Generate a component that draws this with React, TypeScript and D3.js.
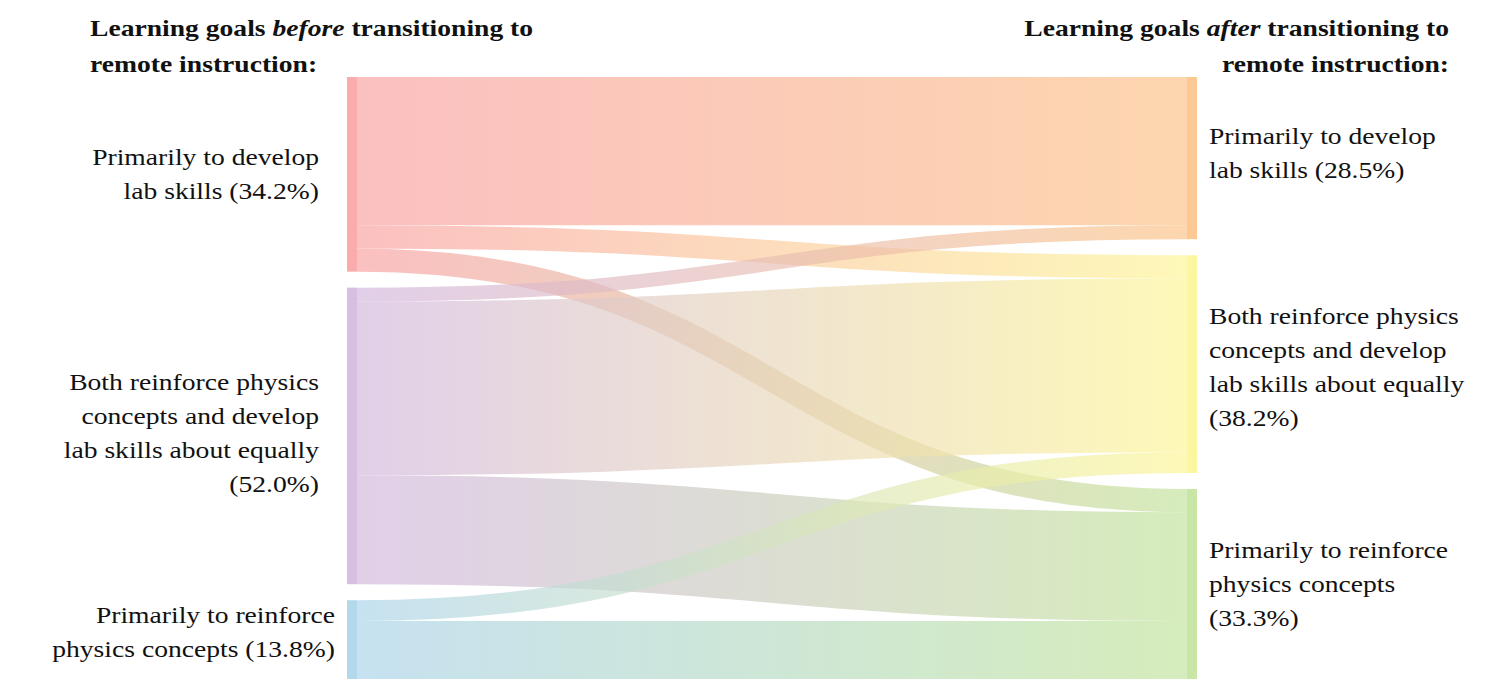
import { useEffect } from "react"
import * as d3 from "d3"

// Nodes: column 0 = before, column 1 = after
const beforeNodes = ["devBefore", "bothBefore", "concBefore"]
const afterNodes = ["devAfter", "bothAfter", "concAfter"]

const nodeLabels: Record<string, string[]> = {
  devBefore: ["Primarily to develop", "lab skills (34.2%)"],
  bothBefore: ["Both reinforce physics", "concepts and develop", "lab skills about equally", "(52.0%)"],
  concBefore: ["Primarily to reinforce", "physics concepts (13.8%)"],
  devAfter: ["Primarily to develop", "lab skills (28.5%)"],
  bothAfter: ["Both reinforce physics", "concepts and develop", "lab skills about equally", "(38.2%)"],
  concAfter: ["Primarily to reinforce", "physics concepts", "(33.3%)"],
}

const nodeColors: Record<string, string> = {
  devBefore: "#f9a2a3",
  bothBefore: "#d3b8de",
  concBefore: "#abd3e9",
  devAfter: "#fcc388",
  bothAfter: "#fdf597",
  concAfter: "#c2e39c",
}

const flowSources = ["devBefore", "devBefore", "devBefore", "bothBefore", "bothBefore", "bothBefore", "concBefore", "concBefore"]
const flowTargets = ["devAfter", "bothAfter", "concAfter", "devAfter", "bothAfter", "concAfter", "bothAfter", "concAfter"]
const flowValues = [64, 10, 10, 6, 75, 47, 9, 25]

const titleBefore = ["Learning goals ", "before", " transitioning to"]
const titleAfter = ["Learning goals ", "after", " transitioning to"]
const titleLine2 = "remote instruction:"

const FONT = "'Liberation Serif', 'Times New Roman', serif"
const SX = 1.15

export default function App() {
  useEffect(() => {
    document.body.style.margin = "0"
  }, [])

  const width = 1500
  const height = 687
  const top = 77
  const bottom = 679
  const gap = 16
  const nodeW = 10

  const total = d3.sum(flowValues)
  const k = d3.scaleLinear().domain([0, total]).range([0, bottom - top - gap * 2])
  const colX = d3.scaleLinear().domain([0, 1]).range([347, 1187])

  type N = { id: string; col: number; x0: number; x1: number; y0: number; y1: number; value: number }
  const nodes: Record<string, N> = {}
  ;[beforeNodes, afterNodes].forEach((ids, col) => {
    let y = top
    ids.forEach((id) => {
      const value = d3.sum(flowValues.filter((_, i) => (col === 0 ? flowSources[i] : flowTargets[i]) === id))
      const h = k(value)
      nodes[id] = { id, col, x0: colX(col), x1: colX(col) + nodeW, y0: y, y1: y + h, value }
      y += h + gap
    })
  })

  // stack links at source (ordered by target) and at target (ordered by source)
  const links = flowValues.map((v, i) => ({ i, s: flowSources[i], t: flowTargets[i], v, w: k(v), sy: 0, ty: 0 }))
  const srcOff: Record<string, number> = {}
  const tgtOff: Record<string, number> = {}
  links
    .slice()
    .sort((a, b) => afterNodes.indexOf(a.t) - afterNodes.indexOf(b.t))
    .forEach((l) => {
      const o = srcOff[l.s] ?? nodes[l.s].y0
      l.sy = o + l.w / 2
      srcOff[l.s] = o + l.w
    })
  links
    .slice()
    .sort((a, b) => beforeNodes.indexOf(a.s) - beforeNodes.indexOf(b.s))
    .forEach((l) => {
      const o = tgtOff[l.t] ?? nodes[l.t].y0
      l.ty = o + l.w / 2
      tgtOff[l.t] = o + l.w
    })

  const linkGen = d3
    .linkHorizontal<{ source: [number, number]; target: [number, number] }, [number, number]>()
    .x((d) => d[0])
    .y((d) => d[1])

  const lineH = 34
  // small hand offsets, the original text boxes were placed by hand
  const nudge: Record<string, [number, number]> = {
    concBefore: [16, -8],
    devAfter: [0, -5],
    bothAfter: [0, 3],
    bothBefore: [0, -3],
  }

  const renderLabel = (n: N) => {
    const lines = nodeLabels[n.id]
    const [nx, ny] = nudge[n.id] ?? [0, 0]
    const cy = (n.y0 + n.y1) / 2
    const firstBase = cy - ((lines.length - 1) * lineH) / 2 + 8 + ny
    const left = n.col === 0
    const x = (left ? n.x0 - 28 : n.x1 + 12) + nx
    return lines.map((t, j) => (
      <text
        key={n.id + j}
        transform={`translate(${x},${firstBase + j * lineH}) scale(${SX},1)`}
        textAnchor={left ? "end" : "start"}
        fontFamily={FONT}
        fontSize={24}
        fill="#111"
      >
        {t}
      </text>
    ))
  }

  const renderTitle = (parts: string[], x: number, anchor: "start" | "end") => (
    <g fontFamily={FONT} fontSize={24} fontWeight="bold" fill="#111">
      <text transform={`translate(${x},36) scale(${SX},1)`} textAnchor={anchor}>
        {parts[0]}
        <tspan fontStyle="italic">{parts[1]}</tspan>
        {parts[2]}
      </text>
      <text transform={`translate(${x},72) scale(${SX},1)`} textAnchor={anchor}>
        {titleLine2}
      </text>
    </g>
  )

  return (
    <svg width={width} height={height} style={{ display: "block", background: "#fff" }}>
      <defs>
        {links.map((l) => (
          <linearGradient
            key={l.i}
            id={`grad${l.i}`}
            gradientUnits="userSpaceOnUse"
            x1={nodes[l.s].x1}
            x2={nodes[l.t].x0}
          >
            <stop offset="0%" stopColor={nodeColors[l.s]} />
            <stop offset="100%" stopColor={nodeColors[l.t]} />
          </linearGradient>
        ))}
      </defs>
      <g fill="none">
        {links.map((l) => (
          <path
            key={l.i}
            d={linkGen({ source: [nodes[l.s].x1, l.sy], target: [nodes[l.t].x0, l.ty] }) || ""}
            stroke={`url(#grad${l.i})`}
            strokeWidth={l.w}
            strokeOpacity={0.68}
          />
        ))}
      </g>
      <g>
        {Object.values(nodes).map((n) => (
          <rect
            key={n.id}
            x={n.x0}
            y={n.y0}
            width={n.x1 - n.x0}
            height={n.y1 - n.y0}
            fill={nodeColors[n.id]}
            opacity={0.9}
          />
        ))}
      </g>
      {Object.values(nodes).map(renderLabel)}
      {renderTitle(titleBefore, 90, "start")}
      {renderTitle(titleAfter, 1449, "end")}
    </svg>
  )
}
